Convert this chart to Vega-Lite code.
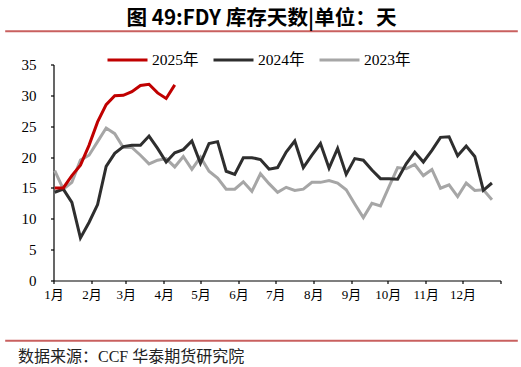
{
  "$schema": "https://vega.github.io/schema/vega-lite/v6.json",
  "padding": {"left": 5, "right": 5, "top": 8, "bottom": 0},
  "background": "white",
  "config": {"view": {"stroke": null}, "font": "Liberation Serif"},
  "spacing": 37.5,
  "vconcat": [
    {
      "spacing": 24.5,
      "vconcat": [
        {
          "data": {"values": []},
          "width": 511,
          "height": 0.5,
          "view": {"stroke": "#C9605F", "strokeWidth": 1.6},
          "title": {"text": "图 49:FDY 库存天数|单位：天", "font": "Noto Sans CJK SC", "fontSize": 20.6, "fontWeight": "bold", "color": "#000000", "anchor": "middle", "offset": 1},
          "mark": "point",
          "encoding": {}
        },
        {
          "spacing": 13.5,
          "hconcat": [
            {
              "data": {"values": []},
              "width": 1,
              "height": 1,
              "mark": "point",
              "encoding": {}
            },
            {
              "width": 447,
              "height": 216,
              "data": {"values": [
                {"date": "2023-01-02", "series": "2023年", "value": 17.8},
                {"date": "2023-01-09", "series": "2023年", "value": 14.8},
                {"date": "2023-01-16", "series": "2023年", "value": 15.9},
                {"date": "2023-01-23", "series": "2023年", "value": 19.5},
                {"date": "2023-01-30", "series": "2023年", "value": 20.3},
                {"date": "2023-02-06", "series": "2023年", "value": 22.5},
                {"date": "2023-02-13", "series": "2023年", "value": 24.7},
                {"date": "2023-02-20", "series": "2023年", "value": 23.8},
                {"date": "2023-02-27", "series": "2023年", "value": 21.55},
                {"date": "2023-03-06", "series": "2023年", "value": 21.55},
                {"date": "2023-03-13", "series": "2023年", "value": 20.3},
                {"date": "2023-03-20", "series": "2023年", "value": 18.9},
                {"date": "2023-03-27", "series": "2023年", "value": 19.5},
                {"date": "2023-04-03", "series": "2023年", "value": 19.75},
                {"date": "2023-04-10", "series": "2023年", "value": 18.4},
                {"date": "2023-04-17", "series": "2023年", "value": 20.1},
                {"date": "2023-04-24", "series": "2023年", "value": 18.0},
                {"date": "2023-05-01", "series": "2023年", "value": 20.0},
                {"date": "2023-05-08", "series": "2023年", "value": 17.7},
                {"date": "2023-05-15", "series": "2023年", "value": 16.6},
                {"date": "2023-05-22", "series": "2023年", "value": 14.8},
                {"date": "2023-05-29", "series": "2023年", "value": 14.8},
                {"date": "2023-06-05", "series": "2023年", "value": 16.0},
                {"date": "2023-06-12", "series": "2023年", "value": 14.45},
                {"date": "2023-06-19", "series": "2023年", "value": 17.3},
                {"date": "2023-06-26", "series": "2023年", "value": 15.7},
                {"date": "2023-07-03", "series": "2023年", "value": 14.3},
                {"date": "2023-07-10", "series": "2023年", "value": 15.1},
                {"date": "2023-07-17", "series": "2023年", "value": 14.6},
                {"date": "2023-07-24", "series": "2023年", "value": 14.8},
                {"date": "2023-07-31", "series": "2023年", "value": 15.9},
                {"date": "2023-08-07", "series": "2023年", "value": 15.9},
                {"date": "2023-08-14", "series": "2023年", "value": 16.2},
                {"date": "2023-08-21", "series": "2023年", "value": 15.8},
                {"date": "2023-08-28", "series": "2023年", "value": 14.7},
                {"date": "2023-09-04", "series": "2023年", "value": 12.4},
                {"date": "2023-09-11", "series": "2023年", "value": 10.2},
                {"date": "2023-09-18", "series": "2023年", "value": 12.5},
                {"date": "2023-09-25", "series": "2023年", "value": 12.1},
                {"date": "2023-10-02", "series": "2023年", "value": 15.2},
                {"date": "2023-10-09", "series": "2023年", "value": 18.3},
                {"date": "2023-10-16", "series": "2023年", "value": 18.1},
                {"date": "2023-10-23", "series": "2023年", "value": 18.8},
                {"date": "2023-10-30", "series": "2023年", "value": 17.0},
                {"date": "2023-11-06", "series": "2023年", "value": 18.0},
                {"date": "2023-11-13", "series": "2023年", "value": 14.95},
                {"date": "2023-11-20", "series": "2023年", "value": 15.5},
                {"date": "2023-11-27", "series": "2023年", "value": 13.6},
                {"date": "2023-12-04", "series": "2023年", "value": 15.8},
                {"date": "2023-12-11", "series": "2023年", "value": 14.6},
                {"date": "2023-12-18", "series": "2023年", "value": 14.7},
                {"date": "2023-12-25", "series": "2023年", "value": 13.1},
                {"date": "2023-01-02", "series": "2024年", "value": 14.3},
                {"date": "2023-01-09", "series": "2024年", "value": 14.8},
                {"date": "2023-01-16", "series": "2024年", "value": 12.65},
                {"date": "2023-01-23", "series": "2024年", "value": 6.9},
                {"date": "2023-01-30", "series": "2024年", "value": 9.4},
                {"date": "2023-02-06", "series": "2024年", "value": 12.3},
                {"date": "2023-02-13", "series": "2024年", "value": 18.5},
                {"date": "2023-02-20", "series": "2024年", "value": 20.6},
                {"date": "2023-02-27", "series": "2024年", "value": 21.7},
                {"date": "2023-03-06", "series": "2024年", "value": 21.9},
                {"date": "2023-03-13", "series": "2024年", "value": 21.9},
                {"date": "2023-03-20", "series": "2024年", "value": 23.4},
                {"date": "2023-03-27", "series": "2024年", "value": 21.4},
                {"date": "2023-04-03", "series": "2024年", "value": 19.2},
                {"date": "2023-04-10", "series": "2024年", "value": 20.7},
                {"date": "2023-04-17", "series": "2024年", "value": 21.2},
                {"date": "2023-04-24", "series": "2024年", "value": 22.6},
                {"date": "2023-05-01", "series": "2024年", "value": 19.0},
                {"date": "2023-05-08", "series": "2024年", "value": 22.2},
                {"date": "2023-05-15", "series": "2024年", "value": 22.5},
                {"date": "2023-05-22", "series": "2024年", "value": 17.7},
                {"date": "2023-05-29", "series": "2024年", "value": 17.2},
                {"date": "2023-06-05", "series": "2024年", "value": 19.9},
                {"date": "2023-06-12", "series": "2024年", "value": 19.9},
                {"date": "2023-06-19", "series": "2024年", "value": 19.6},
                {"date": "2023-06-26", "series": "2024年", "value": 18.05},
                {"date": "2023-07-03", "series": "2024年", "value": 18.3},
                {"date": "2023-07-10", "series": "2024年", "value": 20.8},
                {"date": "2023-07-17", "series": "2024年", "value": 22.6},
                {"date": "2023-07-24", "series": "2024年", "value": 18.3},
                {"date": "2023-07-31", "series": "2024年", "value": 20.3},
                {"date": "2023-08-07", "series": "2024年", "value": 22.2},
                {"date": "2023-08-14", "series": "2024年", "value": 18.2},
                {"date": "2023-08-21", "series": "2024年", "value": 21.4},
                {"date": "2023-08-28", "series": "2024年", "value": 17.2},
                {"date": "2023-09-04", "series": "2024年", "value": 19.75},
                {"date": "2023-09-11", "series": "2024年", "value": 19.5},
                {"date": "2023-09-18", "series": "2024年", "value": 17.9},
                {"date": "2023-09-25", "series": "2024年", "value": 16.5},
                {"date": "2023-10-02", "series": "2024年", "value": 16.5},
                {"date": "2023-10-09", "series": "2024年", "value": 16.4},
                {"date": "2023-10-16", "series": "2024年", "value": 18.9},
                {"date": "2023-10-23", "series": "2024年", "value": 20.8},
                {"date": "2023-10-30", "series": "2024年", "value": 19.2},
                {"date": "2023-11-06", "series": "2024年", "value": 21.1},
                {"date": "2023-11-13", "series": "2024年", "value": 23.2},
                {"date": "2023-11-20", "series": "2024年", "value": 23.3},
                {"date": "2023-11-27", "series": "2024年", "value": 20.2},
                {"date": "2023-12-04", "series": "2024年", "value": 21.8},
                {"date": "2023-12-11", "series": "2024年", "value": 20.1},
                {"date": "2023-12-18", "series": "2024年", "value": 14.6},
                {"date": "2023-12-25", "series": "2024年", "value": 15.8},
                {"date": "2023-01-02", "series": "2025年", "value": 15.0},
                {"date": "2023-01-09", "series": "2025年", "value": 15.0},
                {"date": "2023-01-16", "series": "2025年", "value": 17.0},
                {"date": "2023-01-23", "series": "2025年", "value": 18.7},
                {"date": "2023-01-30", "series": "2025年", "value": 21.9},
                {"date": "2023-02-06", "series": "2025年", "value": 25.7},
                {"date": "2023-02-13", "series": "2025年", "value": 28.5},
                {"date": "2023-02-20", "series": "2025年", "value": 29.95},
                {"date": "2023-02-27", "series": "2025年", "value": 30.0},
                {"date": "2023-03-06", "series": "2025年", "value": 30.6},
                {"date": "2023-03-13", "series": "2025年", "value": 31.6},
                {"date": "2023-03-20", "series": "2025年", "value": 31.8},
                {"date": "2023-03-27", "series": "2025年", "value": 30.4},
                {"date": "2023-04-03", "series": "2025年", "value": 29.5},
                {"date": "2023-04-10", "series": "2025年", "value": 31.7}
              ]},
              "mark": {"type": "line", "strokeJoin": "miter"},
              "encoding": {
                "x": {
                  "field": "date", "type": "temporal",
                  "scale": {"type": "utc", "domain": [{"year": 2023, "month": 1, "date": 1, "utc": true}, {"year": 2024, "month": 1, "date": 1, "utc": true}]},
                  "axis": {
                    "title": null, "grid": false,
                    "tickCount": {"interval": "month", "step": 1},
                    "labelExpr": "utcyear(datum.value) > 2023 ? '' : (utcmonth(datum.value) + 1) + '月'",
                    "labelFont": "Liberation Serif, Noto Sans CJK SC", "labelFontSize": 13, "labelColor": "#000000",
                    "labelPadding": 5, "labelFlush": false, "labelOverlap": false, "labelAngle": 0,
                    "tickSize": 3, "tickColor": "#000000", "tickWidth": 1.2,
                    "domainColor": "#000000", "domainWidth": 1.2
                  }
                },
                "y": {
                  "field": "value", "type": "quantitative",
                  "scale": {"domain": [0, 35], "nice": false},
                  "axis": {
                    "title": null, "grid": false,
                    "values": [0, 5, 10, 15, 20, 25, 30, 35],
                    "labelFont": "Liberation Serif", "labelFontSize": 15, "labelColor": "#000000",
                    "labelPadding": 14.5,
                    "tickSize": 3, "tickColor": "#000000", "tickWidth": 1.2,
                    "domainColor": "#000000", "domainWidth": 1.2
                  }
                },
                "color": {
                  "field": "series", "type": "nominal",
                  "scale": {"domain": ["2025年", "2024年", "2023年"], "range": ["#C00000", "#2E2E2E", "#A6A6A6"]},
                  "legend": {
                    "title": null, "orient": "none", "legendX": 100, "legendY": 7.5,
                    "direction": "horizontal",
                    "symbolType": "stroke", "symbolSize": 1600, "symbolStrokeWidth": 3,
                    "labelFont": "Liberation Serif, Noto Sans CJK SC", "labelFontSize": 15.5, "labelColor": "#000000",
                    "labelOffset": 3, "columnPadding": 8
                  }
                },
                "strokeWidth": {
                  "field": "series", "type": "nominal",
                  "scale": {"domain": ["2025年", "2024年", "2023年"], "range": [3, 3, 2]},
                  "legend": null
                }
              }
            }
          ]
        }
      ]
    },
    {
      "data": {"values": []},
      "width": 511,
      "height": 0.5,
      "view": {"stroke": "#C9605F", "strokeWidth": 1.6},
      "title": {"text": "数据来源：CCF 华泰期货研究院", "orient": "bottom", "anchor": "start", "font": "Liberation Serif, Noto Sans CJK SC", "fontSize": 16, "fontWeight": "normal", "color": "#222222", "offset": 8, "dx": 12},
      "mark": "point",
      "encoding": {}
    }
  ]
}
